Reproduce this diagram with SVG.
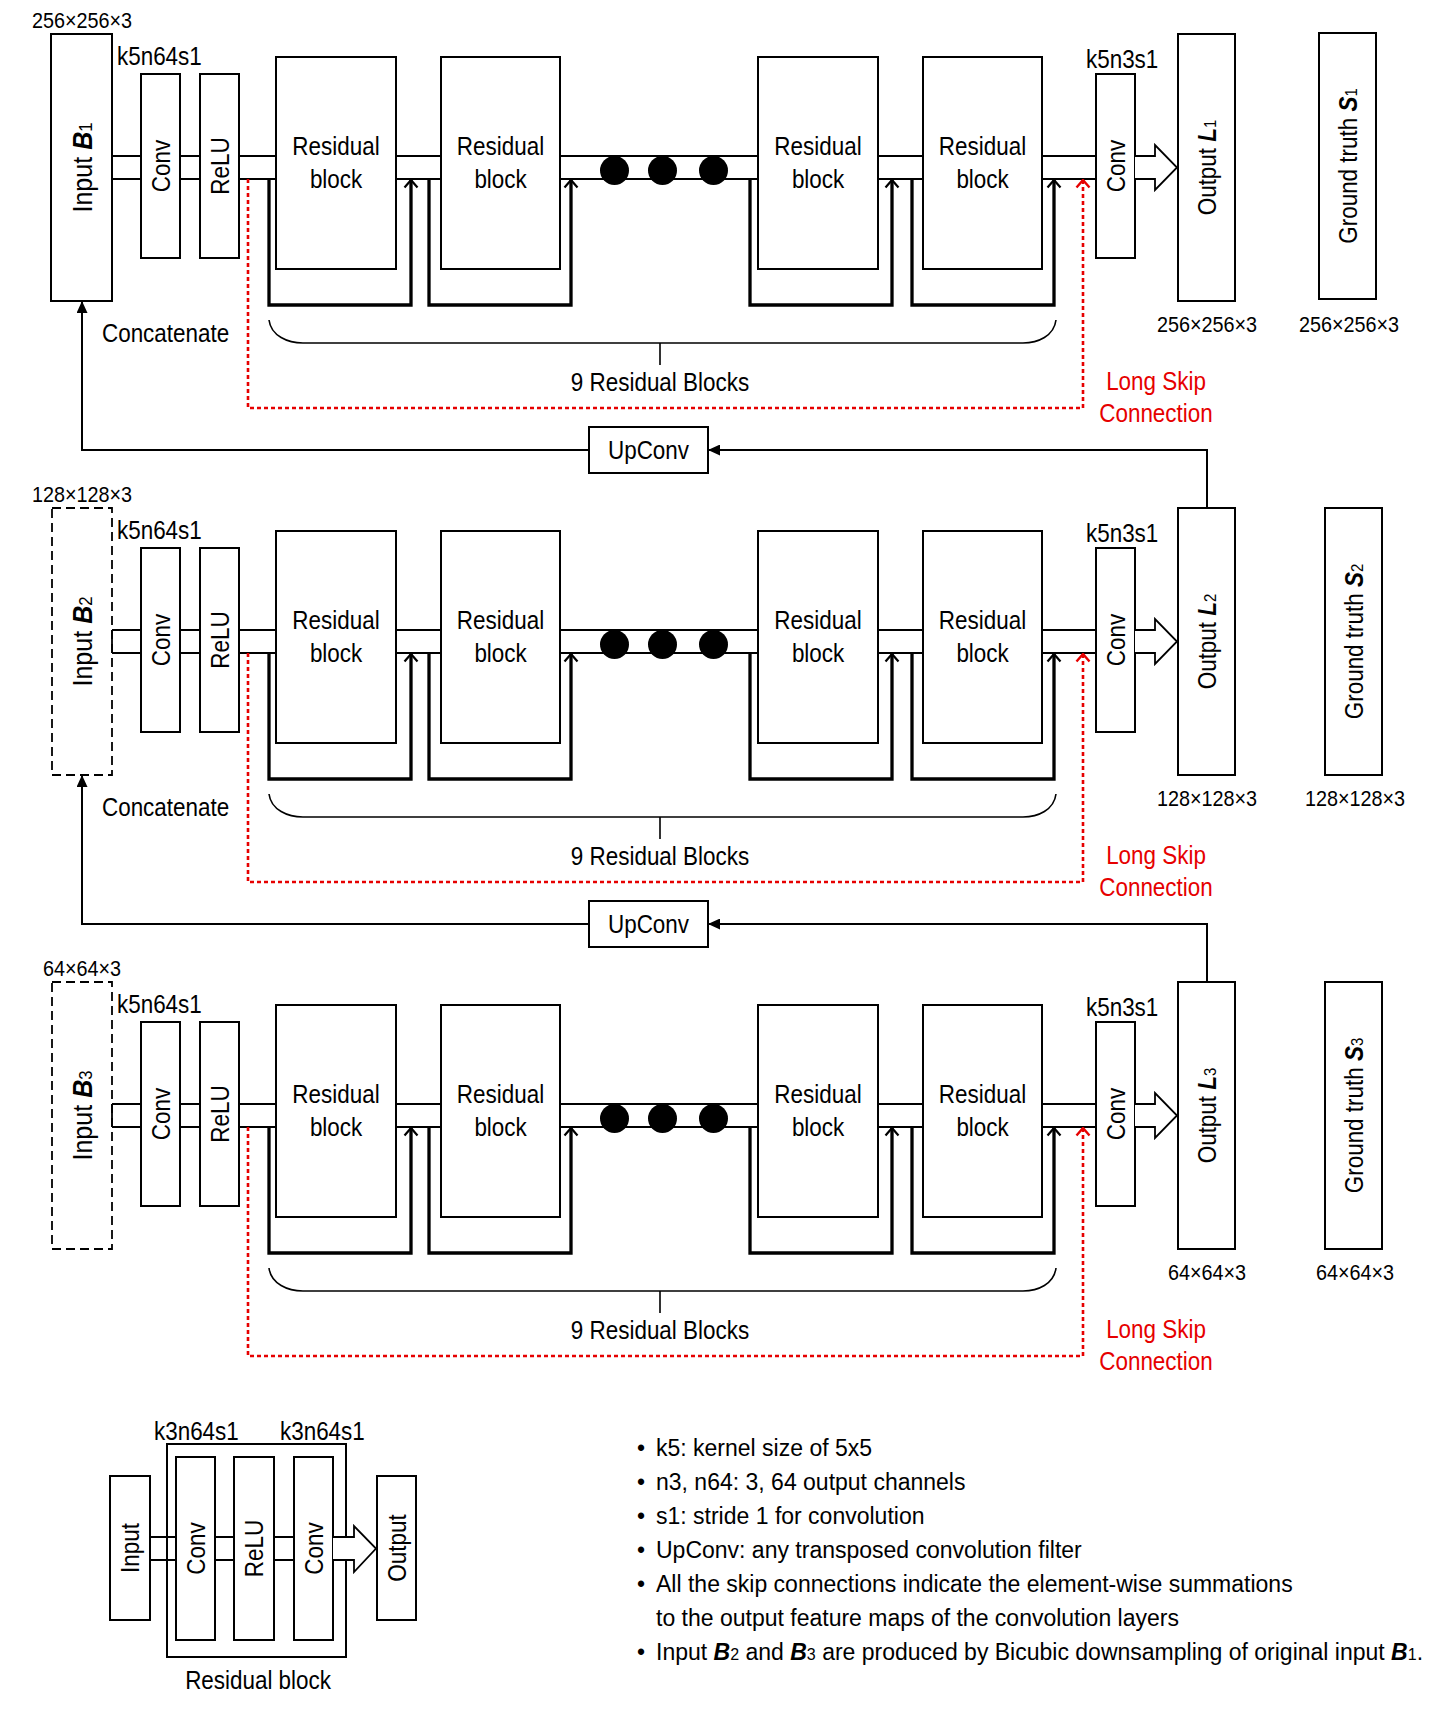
<svg xmlns="http://www.w3.org/2000/svg" width="1429" height="1722" viewBox="0 0 1429 1722">
<style>
.bg{fill:#fff}
.box{fill:#fff;stroke:#000;stroke-width:2}
.dbox{fill:#fff;stroke:#000;stroke-width:1.8;stroke-dasharray:9 5}
.t{font-family:"Liberation Sans",Arial,sans-serif;font-size:25.5px;fill:#000}
.dim{font-size:22.5px}
.lg{font-size:23px}
.inp{font-size:28.5px}
.c{text-anchor:middle}
.sx{transform-box:fill-box;transform-origin:center;transform:scaleX(.88)}
.sxl{transform-box:fill-box;transform-origin:left center;transform:scaleX(.88)}
.red{fill:#e60000}
.bi{font-weight:bold;font-style:italic}
.sub{font-size:17px}
.isub{font-size:19px}
.lsub{font-size:16px}
.pipe{stroke:#000;stroke-width:1.8;fill:none}
.skip{stroke:#000;stroke-width:3.3;fill:none;marker-end:url(#chev)}
.lskip{stroke:#e60000;stroke-width:2.6;stroke-dasharray:4 3;fill:none;marker-end:url(#rchev)}
.conn{stroke:#000;stroke-width:2;fill:none;marker-end:url(#tri)}
.brace{stroke:#000;stroke-width:1.6;fill:none}
.hollow{fill:#fff;stroke:#000;stroke-width:1.8}
.dot{fill:#000}
</style>
<defs>
<marker id="chev" markerUnits="userSpaceOnUse" viewBox="0 0 10 16" markerWidth="10" markerHeight="16" refX="9" refY="8" orient="auto">
<path d="M1.5,1.5 L9,8 L1.5,14.5" fill="none" stroke="#000" stroke-width="2.2"/>
</marker>
<marker id="rchev" markerUnits="userSpaceOnUse" viewBox="0 0 10 16" markerWidth="10" markerHeight="16" refX="9" refY="8" orient="auto">
<path d="M1.5,1.5 L9,8 L1.5,14.5" fill="none" stroke="#e60000" stroke-width="2.4" stroke-dasharray="none"/>
</marker>
<marker id="tri" markerUnits="userSpaceOnUse" viewBox="0 0 12 11" markerWidth="12" markerHeight="11" refX="12" refY="5.5" orient="auto">
<path d="M0,0 L12,5.5 L0,11 Z" fill="#000"/>
</marker>
</defs>
<rect class="bg" x="0" y="0" width="1429" height="1722"/>

<!-- ================= ROW 1 ================= -->
<g id="row1">
  <g id="r1-input"><rect class="box" x="51" y="34" width="61" height="267"/>
    <text class="t dim c sx" x="82" y="28">256×256×3</text>
    <g transform="translate(82,167.5) rotate(-90)"><text class="t inp c sx" y="10">Input <tspan class="bi">B</tspan><tspan class="isub">1</tspan></text></g></g>
  <g id="r1-conv1"><rect class="box" x="141" y="74" width="39" height="184"/>
    <text class="t sxl" x="117" y="65">k5n64s1</text>
    <g transform="translate(160.5,166) rotate(-90)"><text class="t c sx" y="9">Conv</text></g></g>
  <g id="r1-relu"><rect class="box" x="200" y="74" width="39" height="184"/>
    <g transform="translate(219.5,166) rotate(-90)"><text class="t c sx" y="9">ReLU</text></g></g>
  <g id="r1-rb1"><rect class="box" x="276" y="57" width="120" height="212"/>
    <text class="t c sx" x="336" y="155">Residual</text><text class="t c sx" x="336" y="188">block</text></g>
  <g id="r1-rb2"><rect class="box" x="441" y="57" width="119" height="212"/>
    <text class="t c sx" x="500.5" y="155">Residual</text><text class="t c sx" x="500.5" y="188">block</text></g>
  <g id="r1-rb3"><rect class="box" x="758" y="57" width="120" height="212"/>
    <text class="t c sx" x="818" y="155">Residual</text><text class="t c sx" x="818" y="188">block</text></g>
  <g id="r1-rb4"><rect class="box" x="923" y="57" width="119" height="212"/>
    <text class="t c sx" x="982.5" y="155">Residual</text><text class="t c sx" x="982.5" y="188">block</text></g>
  <g id="r1-conv2"><rect class="box" x="1096" y="74" width="39" height="184"/>
    <text class="t sxl" x="1086" y="68">k5n3s1</text>
    <g transform="translate(1115.5,166) rotate(-90)"><text class="t c sx" y="9">Conv</text></g></g>
  <g id="r1-output"><rect class="box" x="1178" y="34" width="57" height="267"/>
    <g transform="translate(1206.5,167.5) rotate(-90)"><text class="t c sx" y="9">Output <tspan class="bi">L</tspan><tspan class="sub">1</tspan></text></g>
    <text class="t dim c sx" x="1207" y="332">256×256×3</text></g>
  <g id="r1-gt"><rect class="box" x="1319" y="33" width="57" height="266"/>
    <g transform="translate(1347.5,166) rotate(-90)"><text class="t c sx" y="9">Ground truth <tspan class="bi">S</tspan><tspan class="sub">1</tspan></text></g>
    <text class="t dim c sx" x="1349" y="332">256×256×3</text></g>
  <g id="r1-labels">
    <text class="t sxl" x="102" y="342">Concatenate</text>
    <text class="t c sx" x="660" y="391">9 Residual Blocks</text>
    <text class="t c sx red" x="1156" y="390">Long Skip</text>
    <text class="t c sx red" x="1156" y="422">Connection</text>
  </g>
  <g id="r1-connectors">
    <path class="pipe" d="M112,156H141M112,179H141M180,156H200M180,179H200M239,156H276M239,179H276M396,156H441M396,179H441M560,156H758M560,179H758M878,156H923M878,179H923M1042,156H1096M1042,179H1096"/>
    <circle class="dot" cx="614.5" cy="170.5" r="14.5"/><circle class="dot" cx="662.5" cy="170.5" r="14.5"/><circle class="dot" cx="713.5" cy="170.5" r="14.5"/>
    <path class="hollow" d="M1135,156H1155V145L1177,167.5L1155,190V179H1135"/>
    <path class="skip" d="M269,179V305H411V180"/>
    <path class="skip" d="M429,179V305H571V180"/>
    <path class="skip" d="M750,179V305H892V180"/>
    <path class="skip" d="M912,179V305H1054V180"/>
    <path class="lskip" d="M248,179V408H1083V180"/>
    <path class="brace" d="M269,320C271,336 288,343 303,343H1023C1038,343 1054,336 1056,320M660,343V365"/>
  </g>
</g>

<!-- ================= ROW 2 ================= -->
<g id="row2" transform="translate(0,474)">
  <g id="r2-input"><rect class="dbox" x="52" y="34" width="60" height="267"/>
    <text class="t dim c sx" x="82" y="28">128×128×3</text>
    <g transform="translate(82,167.5) rotate(-90)"><text class="t inp c sx" y="10">Input <tspan class="bi">B</tspan><tspan class="isub">2</tspan></text></g></g>
  <g id="r2-conv1"><rect class="box" x="141" y="74" width="39" height="184"/>
    <text class="t sxl" x="117" y="65">k5n64s1</text>
    <g transform="translate(160.5,166) rotate(-90)"><text class="t c sx" y="9">Conv</text></g></g>
  <g id="r2-relu"><rect class="box" x="200" y="74" width="39" height="184"/>
    <g transform="translate(219.5,166) rotate(-90)"><text class="t c sx" y="9">ReLU</text></g></g>
  <g id="r2-rb1"><rect class="box" x="276" y="57" width="120" height="212"/>
    <text class="t c sx" x="336" y="155">Residual</text><text class="t c sx" x="336" y="188">block</text></g>
  <g id="r2-rb2"><rect class="box" x="441" y="57" width="119" height="212"/>
    <text class="t c sx" x="500.5" y="155">Residual</text><text class="t c sx" x="500.5" y="188">block</text></g>
  <g id="r2-rb3"><rect class="box" x="758" y="57" width="120" height="212"/>
    <text class="t c sx" x="818" y="155">Residual</text><text class="t c sx" x="818" y="188">block</text></g>
  <g id="r2-rb4"><rect class="box" x="923" y="57" width="119" height="212"/>
    <text class="t c sx" x="982.5" y="155">Residual</text><text class="t c sx" x="982.5" y="188">block</text></g>
  <g id="r2-conv2"><rect class="box" x="1096" y="74" width="39" height="184"/>
    <text class="t sxl" x="1086" y="68">k5n3s1</text>
    <g transform="translate(1115.5,166) rotate(-90)"><text class="t c sx" y="9">Conv</text></g></g>
  <g id="r2-output"><rect class="box" x="1178" y="34" width="57" height="267"/>
    <g transform="translate(1206.5,167.5) rotate(-90)"><text class="t c sx" y="9">Output <tspan class="bi">L</tspan><tspan class="sub">2</tspan></text></g>
    <text class="t dim c sx" x="1207" y="332">128×128×3</text></g>
  <g id="r2-gt"><rect class="box" x="1325" y="34" width="57" height="267"/>
    <g transform="translate(1353.5,167.5) rotate(-90)"><text class="t c sx" y="9">Ground truth <tspan class="bi">S</tspan><tspan class="sub">2</tspan></text></g>
    <text class="t dim c sx" x="1355" y="332">128×128×3</text></g>
  <g id="r2-labels">
    <text class="t sxl" x="102" y="342">Concatenate</text>
    <text class="t c sx" x="660" y="391">9 Residual Blocks</text>
    <text class="t c sx red" x="1156" y="390">Long Skip</text>
    <text class="t c sx red" x="1156" y="422">Connection</text>
  </g>
  <g id="r2-connectors">
    <path class="pipe" d="M112,156V179M112,156H141M112,179H141M180,156H200M180,179H200M239,156H276M239,179H276M396,156H441M396,179H441M560,156H758M560,179H758M878,156H923M878,179H923M1042,156H1096M1042,179H1096"/>
    <circle class="dot" cx="614.5" cy="170.5" r="14.5"/><circle class="dot" cx="662.5" cy="170.5" r="14.5"/><circle class="dot" cx="713.5" cy="170.5" r="14.5"/>
    <path class="hollow" d="M1135,156H1155V145L1177,167.5L1155,190V179H1135"/>
    <path class="skip" d="M269,179V305H411V180"/>
    <path class="skip" d="M429,179V305H571V180"/>
    <path class="skip" d="M750,179V305H892V180"/>
    <path class="skip" d="M912,179V305H1054V180"/>
    <path class="lskip" d="M248,179V408H1083V180"/>
    <path class="brace" d="M269,320C271,336 288,343 303,343H1023C1038,343 1054,336 1056,320M660,343V365"/>
  </g>
</g>

<!-- ================= ROW 3 ================= -->
<g id="row3" transform="translate(0,948)">
  <g id="r3-input"><rect class="dbox" x="52" y="34" width="60" height="267"/>
    <text class="t dim c sx" x="82" y="28">64×64×3</text>
    <g transform="translate(82,167.5) rotate(-90)"><text class="t inp c sx" y="10">Input <tspan class="bi">B</tspan><tspan class="isub">3</tspan></text></g></g>
  <g id="r3-conv1"><rect class="box" x="141" y="74" width="39" height="184"/>
    <text class="t sxl" x="117" y="65">k5n64s1</text>
    <g transform="translate(160.5,166) rotate(-90)"><text class="t c sx" y="9">Conv</text></g></g>
  <g id="r3-relu"><rect class="box" x="200" y="74" width="39" height="184"/>
    <g transform="translate(219.5,166) rotate(-90)"><text class="t c sx" y="9">ReLU</text></g></g>
  <g id="r3-rb1"><rect class="box" x="276" y="57" width="120" height="212"/>
    <text class="t c sx" x="336" y="155">Residual</text><text class="t c sx" x="336" y="188">block</text></g>
  <g id="r3-rb2"><rect class="box" x="441" y="57" width="119" height="212"/>
    <text class="t c sx" x="500.5" y="155">Residual</text><text class="t c sx" x="500.5" y="188">block</text></g>
  <g id="r3-rb3"><rect class="box" x="758" y="57" width="120" height="212"/>
    <text class="t c sx" x="818" y="155">Residual</text><text class="t c sx" x="818" y="188">block</text></g>
  <g id="r3-rb4"><rect class="box" x="923" y="57" width="119" height="212"/>
    <text class="t c sx" x="982.5" y="155">Residual</text><text class="t c sx" x="982.5" y="188">block</text></g>
  <g id="r3-conv2"><rect class="box" x="1096" y="74" width="39" height="184"/>
    <text class="t sxl" x="1086" y="68">k5n3s1</text>
    <g transform="translate(1115.5,166) rotate(-90)"><text class="t c sx" y="9">Conv</text></g></g>
  <g id="r3-output"><rect class="box" x="1178" y="34" width="57" height="267"/>
    <g transform="translate(1206.5,167.5) rotate(-90)"><text class="t c sx" y="9">Output <tspan class="bi">L</tspan><tspan class="sub">3</tspan></text></g>
    <text class="t dim c sx" x="1207" y="332">64×64×3</text></g>
  <g id="r3-gt"><rect class="box" x="1325" y="34" width="57" height="267"/>
    <g transform="translate(1353.5,167.5) rotate(-90)"><text class="t c sx" y="9">Ground truth <tspan class="bi">S</tspan><tspan class="sub">3</tspan></text></g>
    <text class="t dim c sx" x="1355" y="332">64×64×3</text></g>
  <g id="r3-labels">
    <text class="t c sx" x="660" y="391">9 Residual Blocks</text>
    <text class="t c sx red" x="1156" y="390">Long Skip</text>
    <text class="t c sx red" x="1156" y="422">Connection</text>
  </g>
  <g id="r3-connectors">
    <path class="pipe" d="M112,156V179M112,156H141M112,179H141M180,156H200M180,179H200M239,156H276M239,179H276M396,156H441M396,179H441M560,156H758M560,179H758M878,156H923M878,179H923M1042,156H1096M1042,179H1096"/>
    <circle class="dot" cx="614.5" cy="170.5" r="14.5"/><circle class="dot" cx="662.5" cy="170.5" r="14.5"/><circle class="dot" cx="713.5" cy="170.5" r="14.5"/>
    <path class="hollow" d="M1135,156H1155V145L1177,167.5L1155,190V179H1135"/>
    <path class="skip" d="M269,179V305H411V180"/>
    <path class="skip" d="M429,179V305H571V180"/>
    <path class="skip" d="M750,179V305H892V180"/>
    <path class="skip" d="M912,179V305H1054V180"/>
    <path class="lskip" d="M248,179V408H1083V180"/>
    <path class="brace" d="M269,320C271,336 288,343 303,343H1023C1038,343 1054,336 1056,320M660,343V365"/>
  </g>
</g>

<!-- ================= UpConv nodes ================= -->
<g id="upconv1"><rect class="box" x="589" y="427" width="119" height="46"/>
  <text class="t c sx" x="648.5" y="459">UpConv</text></g>
<g id="upconv2"><rect class="box" x="589" y="901" width="119" height="46"/>
  <text class="t c sx" x="648.5" y="933">UpConv</text></g>

<g id="inter-row-connectors">
  <path class="conn" d="M1207,508V450H708"/>
  <path class="conn" d="M589,450H82V301"/>
  <path class="conn" d="M1207,982V924H708"/>
  <path class="conn" d="M589,924H82V775"/>
</g>

<!-- ================= Legend: residual block ================= -->
<g id="legend-block">
  <g id="lg-outer"><rect x="167" y="1444" width="179" height="213" fill="none" stroke="#000" stroke-width="2"/>
    <text class="t c sx" x="258" y="1689">Residual block</text></g>
  <g id="lg-input"><rect class="box" x="110" y="1476" width="40" height="144"/>
    <g transform="translate(130,1548) rotate(-90)"><text class="t c sx" y="9">Input</text></g></g>
  <g id="lg-conv1"><rect class="box" x="176" y="1457" width="39" height="183"/>
    <text class="t sxl" x="154" y="1440">k3n64s1</text>
    <g transform="translate(195.5,1548.5) rotate(-90)"><text class="t c sx" y="9">Conv</text></g></g>
  <g id="lg-relu"><rect class="box" x="234" y="1457" width="40" height="183"/>
    <g transform="translate(254,1548.5) rotate(-90)"><text class="t c sx" y="9">ReLU</text></g></g>
  <g id="lg-conv2"><rect class="box" x="294" y="1457" width="39" height="183"/>
    <text class="t sxl" x="280" y="1440">k3n64s1</text>
    <g transform="translate(313.5,1548.5) rotate(-90)"><text class="t c sx" y="9">Conv</text></g></g>
  <g id="lg-output"><rect class="box" x="377" y="1476" width="39" height="144"/>
    <g transform="translate(396.5,1548) rotate(-90)"><text class="t c sx" y="9">Output</text></g></g>
  <g id="lg-connectors">
    <path class="pipe" d="M150,1537H176M150,1560H176M215,1537H234M215,1560H234M274,1537H294M274,1560H294"/>
    <path class="hollow" d="M333,1537H354V1526L376,1548.5L354,1572V1560H333"/>
  </g>
</g>

<!-- ================= Legend: notes ================= -->
<g id="legend-notes">
  <text class="t lg" x="637" y="1456">•</text><text class="t lg" x="656" y="1456">k5: kernel size of 5x5</text>
  <text class="t lg" x="637" y="1490">•</text><text class="t lg" x="656" y="1490">n3, n64: 3, 64 output channels</text>
  <text class="t lg" x="637" y="1524">•</text><text class="t lg" x="656" y="1524">s1: stride 1 for convolution</text>
  <text class="t lg" x="637" y="1558">•</text><text class="t lg" x="656" y="1558">UpConv: any transposed convolution filter</text>
  <text class="t lg" x="637" y="1592">•</text><text class="t lg" x="656" y="1592">All the skip connections indicate the element-wise summations</text>
  <text class="t lg" x="656" y="1626">to the output feature maps of the convolution layers</text>
  <text class="t lg" x="637" y="1660">•</text><text class="t lg" x="656" y="1660">Input <tspan class="bi">B</tspan><tspan class="lsub">2</tspan> and <tspan class="bi">B</tspan><tspan class="lsub">3</tspan> are produced by Bicubic downsampling of original input <tspan class="bi">B</tspan><tspan class="lsub">1</tspan>.</text>
</g>
</svg>
